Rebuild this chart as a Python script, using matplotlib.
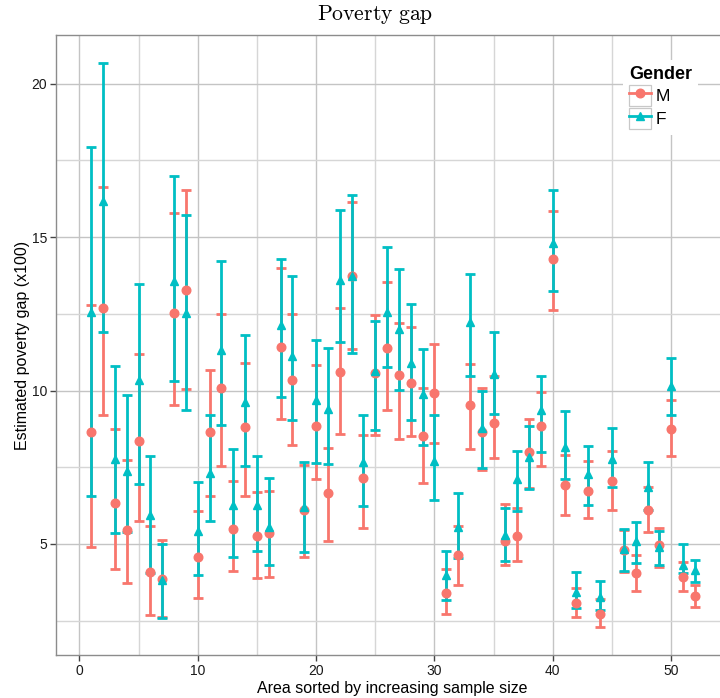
import matplotlib
matplotlib.use('Agg')
import matplotlib.pyplot as plt
import numpy as np
from matplotlib.lines import Line2D
from matplotlib.patches import Rectangle
from matplotlib.legend_handler import HandlerLine2D
from matplotlib.ticker import MultipleLocator

plt.rcParams['font.family'] = ['Liberation Sans', 'DejaVu Sans']
plt.rcParams['mathtext.fontset'] = 'cm'

# ---- data ----
area = np.arange(1, 53)

m_mean = [8.66, 12.68, 6.35, 5.46, 8.37, 4.07, 3.85, 12.52, 13.27, 4.58,
          8.65, 10.07, 5.49, 8.81, 5.26, 5.35, 11.43, 10.35, 6.11, 8.86,
          6.67, 10.62, 13.72, 7.16, 10.57, 11.38, 10.50, 10.24, 8.52, 9.93,
          3.41, 4.65, 9.53, 8.66, 8.95, 5.09, 5.25, 8.00, 8.84, 14.30,
          6.91, 3.09, 6.72, 2.73, 7.04, 4.80, 4.04, 6.11, 4.95, 8.75,
          3.93, 3.30]
m_lo = [4.91, 9.19, 4.18, 3.72, 5.75, 2.68, 2.62, 9.53, 10.04, 3.24,
        6.56, 7.55, 4.13, 6.56, 3.88, 3.92, 9.07, 8.23, 4.59, 7.11,
        5.10, 8.58, 11.35, 5.51, 8.55, 9.37, 8.41, 8.52, 7.00, 8.30,
        2.72, 3.67, 8.11, 7.41, 7.80, 4.33, 4.45, 6.82, 7.54, 12.62,
        5.93, 2.61, 5.86, 2.29, 6.10, 4.09, 3.46, 5.40, 4.24, 7.87,
        3.48, 2.93]
m_hi = [12.80, 16.65, 8.76, 7.73, 11.19, 5.58, 5.12, 15.80, 16.53, 6.07,
        10.67, 12.50, 7.06, 10.89, 6.69, 6.72, 14.00, 12.49, 7.58, 10.83,
        8.14, 12.68, 16.14, 8.55, 12.46, 13.53, 12.20, 12.07, 10.09, 11.51,
        4.18, 5.58, 10.86, 10.07, 10.48, 6.30, 6.17, 9.07, 9.96, 15.85,
        7.91, 3.57, 7.70, 3.22, 8.02, 5.45, 4.64, 6.87, 5.53, 9.70,
        4.42, 3.66]

f_mean = [12.55, 16.19, 7.77, 7.37, 10.35, 5.95, 3.83, 13.58, 12.54, 5.41,
          7.32, 11.32, 6.27, 9.64, 6.27, 5.56, 12.14, 11.14, 6.22, 9.70,
          9.39, 13.61, 13.75, 7.68, 10.65, 12.55, 12.01, 10.89, 9.89, 7.72,
          4.00, 5.54, 12.23, 8.78, 10.54, 5.30, 7.11, 7.84, 9.36, 14.82,
          8.16, 3.43, 7.27, 3.27, 7.76, 4.83, 5.09, 6.85, 4.91, 10.15,
          4.32, 4.15]
f_lo = [6.56, 11.92, 5.35, 5.40, 6.96, 4.05, 2.59, 10.31, 9.38, 4.00,
        5.75, 8.89, 4.59, 7.55, 4.78, 4.32, 9.78, 9.03, 4.75, 7.65,
        7.61, 11.58, 11.24, 6.24, 8.70, 10.76, 10.02, 9.04, 8.24, 6.43,
        3.17, 4.54, 10.47, 7.48, 9.22, 4.46, 6.07, 6.80, 8.00, 13.25,
        7.11, 2.91, 6.26, 2.84, 6.84, 4.11, 4.39, 6.10, 4.30, 9.21,
        4.04, 3.77]
f_hi = [17.93, 20.68, 10.80, 9.85, 13.47, 7.88, 4.99, 17.00, 15.72, 7.01,
        9.19, 14.22, 8.09, 11.80, 7.88, 7.16, 14.30, 13.75, 7.68, 11.64,
        11.40, 15.87, 16.37, 9.20, 12.28, 14.67, 13.97, 12.83, 11.35, 9.20,
        4.76, 6.66, 13.80, 9.99, 11.90, 6.17, 8.02, 8.84, 10.47, 16.53,
        9.33, 4.09, 8.20, 3.79, 8.78, 5.49, 5.72, 7.68, 5.43, 11.06,
        5.00, 4.48]

genders = ['M', 'F']
colors = {'M': '#F8766D', 'F': '#00BFC4'}
markers = {'M': 'o', 'F': '^'}
series = {'M': (m_mean, m_lo, m_hi), 'F': (f_mean, f_lo, f_hi)}

title = 'Poverty gap'
xlabel = 'Area sorted by increasing sample size'
ylabel = 'Estimated poverty gap (x100)'
legend_title = 'Gender'


class BoxedHandler(HandlerLine2D):
    def create_artists(self, legend, orig_handle, xdescent, ydescent,
                       width, height, fontsize, trans):
        arts = super().create_artists(legend, orig_handle, xdescent, ydescent,
                                      width, height, fontsize, trans)
        rect = Rectangle((-xdescent, -ydescent), width, height,
                         facecolor='white', edgecolor='#c8c8c8', lw=0.9,
                         transform=trans, zorder=0)
        return [rect] + list(arts)


fig = plt.figure(figsize=(7.2, 6.98), dpi=100)
ax = fig.add_axes([56 / 720, 43 / 698, 672 / 720, 620 / 698])

ax.set_xlim(-1.97, 54.8)
ax.set_ylim(1.38, 21.59)

ax.xaxis.set_major_locator(MultipleLocator(10))
ax.xaxis.set_minor_locator(MultipleLocator(5))
ax.yaxis.set_major_locator(MultipleLocator(5))
ax.yaxis.set_minor_locator(MultipleLocator(2.5))
ax.grid(True, which='major', color='#c4c4c4', lw=1.0)
ax.grid(True, which='minor', color='#d6d6d6', lw=1.0)
ax.set_axisbelow(True)
ax.tick_params(which='minor', length=0)
ax.tick_params(which='major', length=4, width=1.0, color='#444444',
               labelsize=10, labelcolor='#1a1a1a', pad=2.5)

for sp in ax.spines.values():
    sp.set_color('#8c8c8c')
    sp.set_linewidth(1.0)

# layer 1: all error bars (M then F), layer 2: all points (M then F)
for g in genders:
    mean, lo, hi = (np.asarray(a) for a in series[g])
    ax.errorbar(area, mean, yerr=[mean - lo, hi - mean], fmt='none',
                ecolor=colors[g], elinewidth=2.0, capsize=3.4, capthick=2.0,
                zorder=3)
handles = []
for g in genders:
    mean = np.asarray(series[g][0])
    ax.plot(area, mean, linestyle='none', marker=markers[g], color=colors[g],
            markersize=6.2, zorder=4)
    handles.append(Line2D([], [], color=colors[g], marker=markers[g],
                          lw=2.0, markersize=6.2, label=g))

fig.text(375.5 / 720, 1 - 20 / 698, r'$\mathrm{Poverty\ gap}$', ha='center',
         va='baseline', fontsize=15.6)
ax.set_xlabel(xlabel, fontsize=11.5, labelpad=2)
ax.set_ylabel(ylabel, fontsize=11.5, labelpad=1)

leg = ax.legend(handles=handles, title=legend_title, loc='upper left',
                bbox_to_anchor=(614 / 720, 1 - 51 / 698),
                bbox_transform=fig.transFigure, fontsize=12.5,
                title_fontproperties={'weight': 'bold', 'size': 13},
                frameon=True, fancybox=False, framealpha=1,
                handler_map={Line2D: BoxedHandler()},
                handlelength=1.3, handleheight=1.45, labelspacing=0.13,
                handletextpad=0.25, borderpad=0.35, alignment='left')
leg.get_frame().set_edgecolor('none')
leg.get_frame().set_facecolor('white')

fig.savefig('out.png', dpi=100)
